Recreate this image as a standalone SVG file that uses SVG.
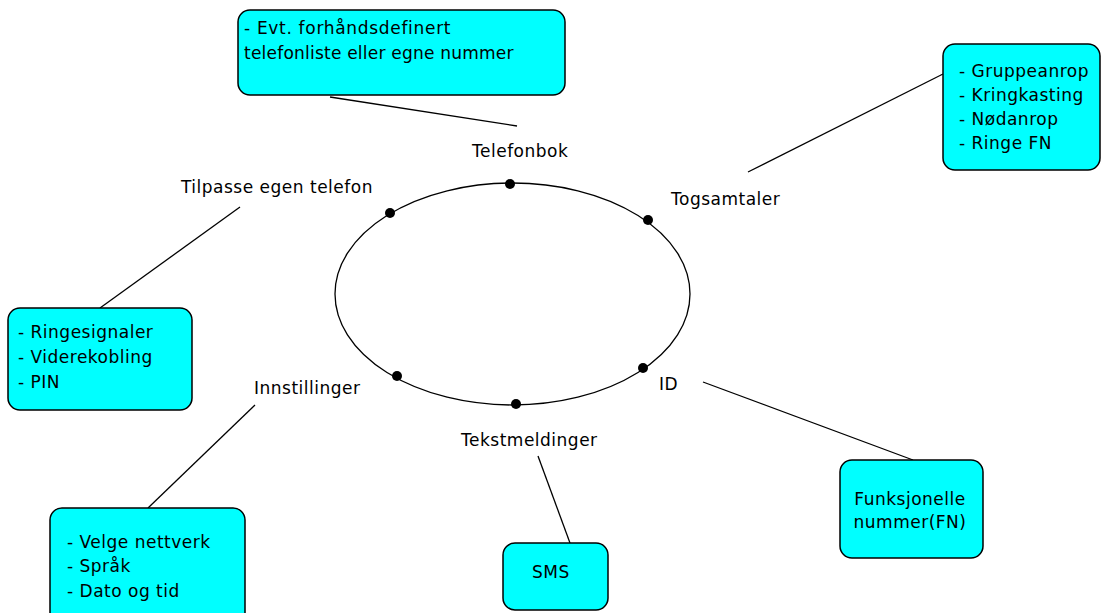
<svg xmlns="http://www.w3.org/2000/svg" width="1102" height="613" viewBox="0 0 1102 613">
<style>
.box{fill:#00ffff;stroke:#000;stroke-width:1.5}
.t{font-family:"DejaVu Sans",Verdana,sans-serif;font-size:17px;letter-spacing:0.5px;fill:#000}
.c{fill:none;stroke:#000;stroke-width:1.3}
.dot{fill:#000}
</style>
<rect width="1102" height="613" fill="#fff"/>
<g id="connectors">
<line class="c" x1="330" y1="97" x2="517" y2="126"/>
<line class="c" x1="943" y1="74" x2="748" y2="172"/>
<line class="c" x1="240" y1="207" x2="100" y2="308"/>
<line class="c" x1="255" y1="405" x2="148" y2="508"/>
<line class="c" x1="538" y1="456" x2="570" y2="543"/>
<line class="c" x1="703" y1="382" x2="913" y2="460"/>
</g>
<g id="cycle">
<ellipse class="c" cx="512.5" cy="294" rx="177.5" ry="111"/>
<circle class="dot" cx="510" cy="184" r="5"/>
<circle class="dot" cx="390" cy="213" r="5"/>
<circle class="dot" cx="648" cy="220" r="5"/>
<circle class="dot" cx="397" cy="376" r="5"/>
<circle class="dot" cx="516" cy="404" r="5"/>
<circle class="dot" cx="643" cy="368" r="5"/>
</g>
<g id="label-telefonbok"><text class="t" x="472" y="157">Telefonbok</text></g>
<g id="label-togsamtaler"><text class="t" x="671" y="205">Togsamtaler</text></g>
<g id="label-tilpasse"><text class="t" x="181" y="193">Tilpasse egen telefon</text></g>
<g id="label-innstillinger"><text class="t" x="254" y="394">Innstillinger</text></g>
<g id="label-tekstmeldinger"><text class="t" x="461" y="446">Tekstmeldinger</text></g>
<g id="label-id"><text class="t" x="659" y="390">ID</text></g>
<g id="box-telefonliste">
<rect class="box" x="238" y="10" width="327" height="85" rx="12"/>
<text class="t" x="244" y="34" textLength="207">- Evt. forhåndsdefinert</text>
<text class="t" x="244" y="59" textLength="270">telefonliste eller egne nummer</text>
</g>
<g id="box-togsamtaler">
<rect class="box" x="943" y="44" width="157" height="126" rx="12"/>
<text class="t" x="959" y="77">- Gruppeanrop</text>
<text class="t" x="959" y="101">- Kringkasting</text>
<text class="t" x="959" y="125">- Nødanrop</text>
<text class="t" x="959" y="149">- Ringe FN</text>
</g>
<g id="box-tilpasse">
<rect class="box" x="8" y="308" width="184" height="102" rx="12"/>
<text class="t" x="18" y="338">- Ringesignaler</text>
<text class="t" x="18" y="363">- Viderekobling</text>
<text class="t" x="18" y="388">- PIN</text>
</g>
<g id="box-innstillinger">
<rect class="box" x="50" y="508" width="195" height="120" rx="12"/>
<text class="t" x="67" y="548">- Velge nettverk</text>
<text class="t" x="67" y="572">- Språk</text>
<text class="t" x="67" y="597">- Dato og tid</text>
</g>
<g id="box-sms">
<rect class="box" x="503" y="543" width="105" height="67" rx="12"/>
<text class="t" x="532" y="578">SMS</text>
</g>
<g id="box-fn">
<rect class="box" x="840" y="460" width="143" height="98" rx="12"/>
<text class="t" x="910" y="505" text-anchor="middle">Funksjonelle</text>
<text class="t" x="910" y="528" text-anchor="middle">nummer(FN)</text>
</g>
</svg>
